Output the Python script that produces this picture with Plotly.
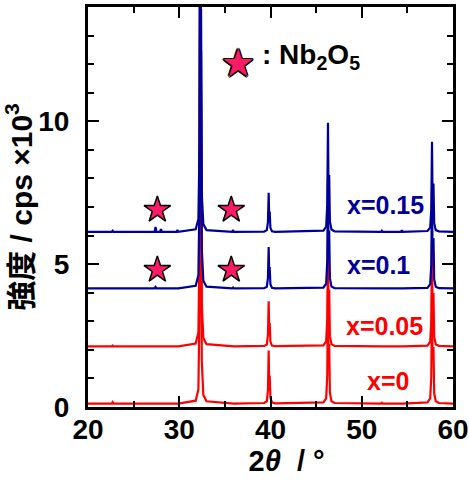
import plotly.graph_objects as go

# ---------------- data (intensity in 10^3 cps) ----------------
two_theta = [20, 22.6, 22.7, 22.8, 27.3, 27.4, 27.5, 27.9, 28.0, 28.1, 29.7, 29.8, 29.9,
             31.8, 32.1, 32.22, 32.3, 32.35, 32.39, 32.47, 32.64, 32.99,
             35.8, 35.9, 36.0,
             39.3, 39.6, 39.72, 39.8, 39.85, 39.91, 39.99, 40.16, 40.51,
             45.8, 46.1, 46.22, 46.3, 46.35, 46.43, 46.51, 46.68, 47.03,
             52.1, 52.2, 52.3, 54.3, 54.4, 54.5,
             57.2, 57.5, 57.62, 57.7, 57.75, 57.86, 57.94, 58.11, 58.46, 60]

intensity_x0 = [0.12, 0.12, 0.17, 0.12, 0.12, 0.12, 0.12, 0.12, 0.12, 0.12, 0.12, 0.12, 0.12,
                0.22, 0.62, 3.60, 17.12, 7.77, 8.96, 1.60, 0.42, 0.20,
                0.12, 0.12, 0.12,
                0.14, 0.20, 0.60, 1.98, 0.96, 1.09, 0.32, 0.16, 0.13,
                0.16, 0.30, 1.10, 4.12, 1.92, 2.20, 0.50, 0.20, 0.14,
                0.12, 0.15, 0.12, 0.12, 0.12, 0.12,
                0.16, 0.30, 1.05, 3.92, 1.83, 2.10, 0.48, 0.20, 0.14,
                0.12]

intensity_x005 = [0.12, 0.12, 0.15, 0.12, 0.12, 0.12, 0.12, 0.12, 0.12, 0.12, 0.12, 0.12, 0.12,
                  0.22, 0.62, 3.60, 17.12, 7.77, 8.96, 1.60, 0.42, 0.20,
                  0.12, 0.12, 0.12,
                  0.14, 0.19, 0.52, 1.70, 0.83, 0.94, 0.29, 0.15, 0.13,
                  0.16, 0.30, 1.06, 3.92, 1.83, 2.10, 0.48, 0.20, 0.14,
                  0.12, 0.12, 0.12, 0.12, 0.12, 0.12,
                  0.15, 0.29, 1.00, 3.72, 1.74, 1.99, 0.46, 0.19, 0.14,
                  0.12]

intensity_x01 = [0.15, 0.15, 0.17, 0.15, 0.15, 0.20, 0.15, 0.15, 0.16, 0.15, 0.15, 0.15, 0.15,
                 0.24, 0.62, 3.40, 16.14, 7.34, 8.46, 1.55, 0.42, 0.21,
                 0.15, 0.18, 0.15,
                 0.16, 0.21, 0.52, 1.60, 0.80, 0.90, 0.30, 0.17, 0.15,
                 0.18, 0.32, 1.10, 4.04, 1.90, 2.17, 0.51, 0.22, 0.16,
                 0.15, 0.16, 0.15, 0.15, 0.16, 0.15,
                 0.17, 0.30, 0.98, 3.54, 1.67, 1.91, 0.47, 0.21, 0.16,
                 0.15]

intensity_x015 = [0.13, 0.13, 0.17, 0.13, 0.13, 0.30, 0.13, 0.13, 0.23, 0.13, 0.13, 0.20, 0.13,
                  0.22, 0.58, 3.20, 15.13, 6.88, 7.93, 1.45, 0.40, 0.19,
                  0.13, 0.19, 0.13,
                  0.14, 0.19, 0.48, 1.50, 0.75, 0.84, 0.27, 0.15, 0.13,
                  0.17, 0.31, 1.08, 3.95, 1.85, 2.12, 0.49, 0.21, 0.15,
                  0.13, 0.17, 0.13, 0.13, 0.19, 0.13,
                  0.16, 0.28, 0.92, 3.28, 1.55, 1.82, 0.43, 0.19, 0.15,
                  0.13]

series_names = ["x=0", "x=0.05", "x=0.1", "x=0.15"]
series_offsets = [0, 2, 4, 6]          # vertical stacking offset (10^3 cps)
series_colors = ["#ff0000", "#ff0000", "#000099", "#000099"]
series_data = [intensity_x0, intensity_x005, intensity_x01, intensity_x015]

# Nb2O5 reflections marked with stars (on x=0.1 and x=0.15)
nb2o5_2theta = [27.6, 35.7]
star_series_index = [2, 3]
star_level = [0.8, 0.9]                # marker height above each pattern's offset

label_x = [50.4, 48.0, 48.2, 48.2]
label_y = [0.9, 2.82, 4.97, 7.06]

STAR_COLOR = "#ff1a66"
FONT = "Liberation Sans, Arial, Noto Sans CJK JP, sans-serif"

fig = go.Figure()

for name, off, col, data in zip(series_names, series_offsets, series_colors, series_data):
    fig.add_trace(go.Scatter(
        x=two_theta, y=[v + off for v in data], mode="lines", name=name,
        line=dict(color=col, width=2.2), showlegend=False))

for idx, lvl in zip(star_series_index, star_level):
    fig.add_trace(go.Scatter(
        x=nb2o5_2theta, y=[series_offsets[idx] + lvl] * len(nb2o5_2theta),
        mode="markers", name="Nb2O5", showlegend=False,
        marker=dict(symbol="star", size=20, color=STAR_COLOR,
                    line=dict(color="black", width=1.5))))

# series labels
for name, col, lx, ly in zip(series_names, series_colors, label_x, label_y):
    fig.add_annotation(x=lx, y=ly, text="<b>%s</b>" % name, showarrow=False,
                       xanchor="left", yanchor="middle",
                       font=dict(family=FONT, size=25, color=col))

# key: star : Nb2O5
fig.add_annotation(xref="paper", yref="paper", x=0.412, y=0.861, text="★",
                   showarrow=False, xanchor="center", yanchor="middle",
                   font=dict(family="DejaVu Sans", size=38, color=STAR_COLOR,
                             shadow="-1px -1px 0 #000, 1px -1px 0 #000, -1px 1px 0 #000, 1px 1px 0 #000, 0 1.5px 0 #000, 0 -1.5px 0 #000, 1.5px 0 0 #000, -1.5px 0 0 #000"))
fig.add_annotation(xref="paper", yref="paper", x=0.472, y=0.877,
                   text="<b>: Nb<sub>2</sub>O<sub>5</sub></b>",
                   showarrow=False, xanchor="left", yanchor="middle",
                   font=dict(family=FONT, size=28, color="black"))

axis_common = dict(
    showline=True, linecolor="black", linewidth=3, mirror="ticks",
    ticks="inside", tickwidth=2, ticklen=11, tickcolor="black",
    showgrid=False, zeroline=False, automargin=False,
    tickfont=dict(family=FONT, size=28, color="black", weight=700),
)

fig.update_xaxes(
    range=[20, 60], dtick=10, tick0=20,
    minor=dict(dtick=5, ticks="inside", ticklen=6, tickwidth=2, tickcolor="black", showgrid=False),
    title=dict(text="<b>&nbsp;&nbsp;&nbsp;&nbsp;2<i>θ</i>&nbsp;&nbsp;/&nbsp;°</b>",
               font=dict(family=FONT, size=29, color="black"),
               standoff=8),
    ticklabelstandoff=-5,
    **axis_common)

fig.update_yaxes(
    range=[0, 14], dtick=5, tick0=0,
    minor=dict(dtick=1, ticks="inside", ticklen=6, tickwidth=2, tickcolor="black", showgrid=False),
    title=dict(text="<b>強度 / cps ×10<sup>3</sup></b>", font=dict(family=FONT, size=30, color="black"),
               standoff=4),
    ticklabelstandoff=10,
    **axis_common)

fig.update_layout(
    width=469, height=484,
    margin=dict(l=88, r=16, t=7, b=77),
    plot_bgcolor="white", paper_bgcolor="white",
    showlegend=False,
)

fig.write_html("out.html", config={"displayModeBar": False},
               post_script="document.body.style.margin='0';document.body.style.overflow='hidden';")
